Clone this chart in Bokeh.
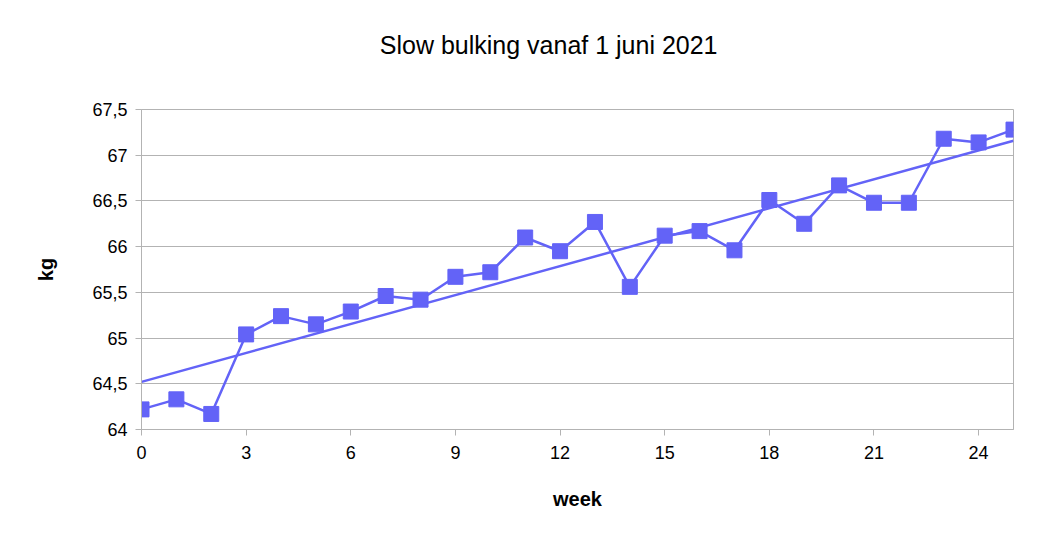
import numpy as np
from bokeh.plotting import figure
from bokeh.layouts import column
from bokeh.models import FixedTicker, ColumnDataSource, Label
from bokeh.embed import file_html
from bokeh.resources import INLINE

weeks = list(range(26))
kg = [64.22, 64.33, 64.17, 65.04, 65.24, 65.15, 65.29, 65.46, 65.42, 65.67,
      65.72, 66.10, 65.95, 66.27, 65.56, 66.12, 66.17, 65.96, 66.51, 66.25,
      66.67, 66.48, 66.48, 67.18, 67.14, 67.28]
x_ticks = [0, 3, 6, 9, 12, 15, 18, 21, 24]
y_ticks = [64, 64.5, 65, 65.5, 66, 66.5, 67, 67.5]
y_tick_labels = {64: "64", 64.5: "64,5", 65: "65", 65.5: "65,5", 66: "66",
                 66.5: "66,5", 67: "67", 67.5: "67,5"}

title = "Slow bulking vanaf 1 juni 2021"
x_label = "week"
y_label = "kg"

color = "#6363f7"
font = "Liberation Sans"

W, H_TITLE, H_PLOT = 1043, 60, 469

# title strip (centred over the whole chart, as in the original)
t = figure(width=W, height=H_TITLE, output_backend="svg", toolbar_location=None,
           x_range=(0, W), y_range=(0, H_TITLE), min_border=0,
           x_axis_location=None, y_axis_location=None)
t.grid.visible = False
t.outline_line_color = None
t.add_layout(Label(x=487, y=16, text=title, text_align="center",
                   text_baseline="middle", text_font=font,
                   text_font_size="25px", text_color="#000000"))

p = figure(width=W, height=H_PLOT, output_backend="svg", toolbar_location=None,
           x_range=(0, 25), y_range=(64, 67.5),
           min_border_left=141, min_border_right=30, min_border_top=49,
           min_border_bottom=100)

# trend line (linear regression of the data)
slope, intercept = np.polyfit(weeks, kg, 1)
tx = [0, 25]
ty = [intercept + slope * v for v in tx]
p.line(tx, ty, line_color=color, line_width=2.5)

src = ColumnDataSource(dict(x=weeks, y=kg))
p.line("x", "y", source=src, line_color=color, line_width=2.5)
p.scatter("x", "y", source=src, marker="square", size=15, fill_color=color,
          line_color=color)

p.outline_line_color = "#b3b3b3"
p.outline_line_width = 1
p.background_fill_color = "white"
p.border_fill_color = "white"

p.xgrid.visible = False
p.ygrid.grid_line_color = "#b3b3b3"
p.ygrid.grid_line_width = 1
p.ygrid.ticker = FixedTicker(ticks=y_ticks)

p.xaxis.ticker = FixedTicker(ticks=x_ticks)
p.yaxis.ticker = FixedTicker(ticks=y_ticks)
p.yaxis.major_label_overrides = y_tick_labels

for ax in (p.xaxis, p.yaxis):
    ax.axis_line_color = "#b3b3b3"
    ax.major_tick_line_color = "#b3b3b3"
    ax.major_tick_out = 6
    ax.major_tick_in = 0
    ax.minor_tick_line_color = None
    ax.major_label_text_font = font
    ax.major_label_text_font_size = "18px"
    ax.major_label_text_color = "#000000"
    ax.axis_label_text_font = font
    ax.axis_label_text_font_size = "20px"
    ax.axis_label_text_font_style = "bold"
    ax.axis_label_text_color = "#000000"

p.xaxis.axis_label = x_label
p.yaxis.axis_label = y_label
p.xaxis.major_label_standoff = 10
p.yaxis.major_label_standoff = 8
p.xaxis.axis_label_standoff = 26
p.yaxis.axis_label_standoff = 32

layout = column(t, p, spacing=0)
open("out.html", "w").write(file_html(layout, INLINE))
